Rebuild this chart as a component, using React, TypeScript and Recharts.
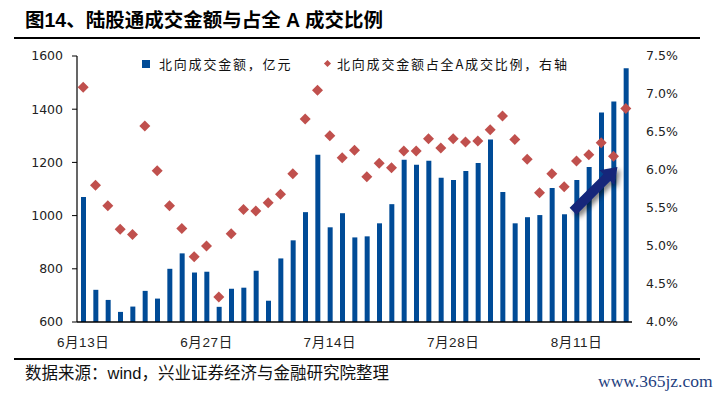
import React from 'react';
import { ComposedChart, Bar, Line, XAxis, YAxis, ReferenceLine } from 'recharts';

const categories = [
  '6月13日', '6月14日', '6月15日', '6月16日', '6月17日', '6月20日', '6月21日', '6月22日', '6月23日', '6月24日',
  '6月27日', '6月28日', '6月29日', '6月30日', '7月4日', '7月5日', '7月6日', '7月7日', '7月8日', '7月13日',
  '7月14日', '7月15日', '7月18日', '7月19日', '7月20日', '7月21日', '7月22日', '7月25日', '7月26日', '7月27日',
  '7月28日', '7月29日', '8月1日', '8月2日', '8月3日', '8月4日', '8月5日', '8月8日', '8月9日', '8月10日',
  '8月11日', '8月12日', '8月15日', '8月16日', '8月17日',
];

const amountValues = [
  1070, 721, 683, 638, 658, 717, 688, 800, 858, 786,
  789, 657, 725, 729, 793, 680, 839, 907, 1013, 1229,
  956, 1009, 918, 922, 971, 1043, 1210, 1191, 1206, 1142,
  1134, 1168, 1198, 1286, 1089, 971, 994, 1002, 1104, 1005,
  1134, 1183, 1388, 1429, 1554,
];

const ratioValues = [
  7.09, 5.80, 5.53, 5.22, 5.15, 6.58, 5.99, 5.53, 5.23, 4.86,
  5.00, 4.33, 5.16, 5.48, 5.46, 5.57, 5.68, 5.95, 6.67, 7.05,
  6.45, 6.16, 6.26, 5.91, 6.09, 6.03, 6.25, 6.25, 6.41, 6.29,
  6.41, 6.37, 6.38, 6.53, 6.71, 6.40, 6.14, 5.70, 5.95, 5.78,
  6.12, 6.20, 6.36, 6.18, 6.81,
];

const leftTicks = [600, 800, 1000, 1200, 1400, 1600];
const rightTicks = [4.0, 4.5, 5.0, 5.5, 6.0, 6.5, 7.0, 7.5];

const titleText = '图14、陆股通成交金额与占全 A 成交比例';
const barLegend = '北向成交金额，亿元';
const dotLegend = '北向成交金额占全A成交比例，右轴';
const sourceText = '数据来源：wind，兴业证券经济与金融研究院整理';
const watermark = 'www.365jz.com';

// arrow annotation anchors (category, left-axis value)
const arrowFrom = { x: '8月10日', y: 983 };
const arrowTo = { x: '8月16日', y: 1168 };

const data = categories.map((c, i) => ({ date: c, amount: amountValues[i], ratio: ratioValues[i] }));

const BAR_COLOR = '#004B97';
const DOT_COLOR = '#C0504D';

const Diamond = (props: any) => {
  const { cx, cy } = props;
  if (cx == null || cy == null) return null;
  const r = 5.5;
  return (
    <polygon
      key={`d-${props.index}`}
      points={`${cx},${cy - r} ${cx + r},${cy} ${cx},${cy + r} ${cx - r},${cy}`}
      fill={DOT_COLOR}
    />
  );
};

const ArrowShape = (props: any) => {
  const { x1, y1, x2, y2 } = props;
  if ([x1, y1, x2, y2].some((v) => v == null || isNaN(v))) return null;
  const dx = x2 - x1;
  const dy = y2 - y1;
  const sx = x1 + dx * 0.18;
  const sy = y1 + dy * 0.18;
  const ex = x1 + dx * 1.08;
  const ey = y1 + dy * 1.08;
  const len = Math.hypot(ex - sx, ey - sy);
  const ux = (ex - sx) / len;
  const uy = (ey - sy) / len;
  const nx = -uy;
  const ny = ux;
  const hw = 4.8;
  const headLen = 15;
  const headW = 10.5;
  const bx = ex - ux * headLen;
  const by = ey - uy * headLen;
  const pts = [
    [sx + nx * hw, sy + ny * hw],
    [bx + nx * hw, by + ny * hw],
    [bx + nx * headW, by + ny * headW],
    [ex, ey],
    [bx - nx * headW, by - ny * headW],
    [bx - nx * hw, by - ny * hw],
    [sx - nx * hw, sy - ny * hw],
  ]
    .map((p) => `${p[0]},${p[1]}`)
    .join(' ');
  return (
    <g>
      <defs>
        <filter id="arrowShadow" x="-50%" y="-50%" width="200%" height="200%">
          <feGaussianBlur in="SourceAlpha" stdDeviation="2.5" />
          <feOffset dx="3" dy="3" result="b" />
          <feComponentTransfer>
            <feFuncA type="linear" slope="0.5" />
          </feComponentTransfer>
          <feMerge>
            <feMergeNode />
            <feMergeNode in="SourceGraphic" />
          </feMerge>
        </filter>
      </defs>
      <polygon points={pts} fill="#13267A" filter="url(#arrowShadow)" />
    </g>
  );
};

const axisFont = { fontFamily: '"DejaVu Sans", Verdana, sans-serif', fontSize: 12.5, fill: '#222' };

export default function App() {
  return (
    <div style={{ position: 'absolute', left: 0, top: 0, width: 721, height: 395, background: '#fff', overflow: 'hidden' }}>
      <div
        style={{
          position: 'absolute', left: 25, top: 7, fontFamily: '"Liberation Sans", "Noto Sans CJK SC", sans-serif',
          fontWeight: 700, fontSize: 19.5, color: '#000', whiteSpace: 'nowrap', lineHeight: '26px',
        }}
      >
        {titleText}
      </div>
      <div style={{ position: 'absolute', left: 14, top: 37, width: 686, height: 1.5, background: '#000' }} />

      <ComposedChart
        width={721}
        height={395}
        data={data}
        margin={{ top: 56, right: 0, bottom: 43, left: 0 }}
        style={{ position: 'absolute', left: 0, top: 0 }}
      >
        <XAxis
          dataKey="date"
          interval={9}
          tickLine={false}
          tickSize={0}
          tickMargin={15}
          height={30}
          axisLine={{ stroke: '#000', strokeWidth: 1.3 }}
          tick={{ fontFamily: '"Liberation Sans", "Noto Sans CJK SC", sans-serif', fontSize: 13.5, fill: '#222', letterSpacing: 0.6 }}
        />
        <YAxis
          yAxisId="left"
          orientation="left"
          width={77}
          domain={[600, 1600]}
          ticks={leftTicks}
          allowDataOverflow
          tickSize={5}
          tickMargin={9}
          tickLine={{ stroke: '#000' }}
          axisLine={{ stroke: '#000', strokeWidth: 1.2 }}
          tick={axisFont}
        />
        <YAxis
          yAxisId="right"
          orientation="right"
          width={89}
          domain={[4.0, 7.5]}
          ticks={rightTicks}
          allowDataOverflow
          tickLine={false}
          axisLine={false}
          tickSize={6}
          tickMargin={8}
          tickFormatter={(v: number) => `${v.toFixed(1)}%`}
          tick={axisFont}
        />
        <Bar yAxisId="left" dataKey="amount" fill={BAR_COLOR} barSize={5} isAnimationActive={false} />
        <Line
          yAxisId="right"
          dataKey="ratio"
          stroke="none"
          strokeWidth={0}
          dot={Diamond}
          activeDot={false}
          isAnimationActive={false}
        />
        <ReferenceLine
          yAxisId="left"
          segment={[arrowFrom, arrowTo]}
          shape={ArrowShape}
          ifOverflow="visible"
        />
      </ComposedChart>

      {/* legend */}
      <div style={{ position: 'absolute', left: 142, top: 60, width: 8, height: 8, background: BAR_COLOR }} />
      <div
        style={{
          position: 'absolute', left: 159, top: 55, fontFamily: '"Noto Sans CJK SC", sans-serif', fontSize: 13,
          letterSpacing: 1.8, color: '#111', whiteSpace: 'nowrap', lineHeight: '18px',
        }}
      >
        {barLegend}
      </div>
      <div
        style={{
          position: 'absolute', left: 325, top: 61, width: 5, height: 5, background: DOT_COLOR, transform: 'rotate(45deg)',
        }}
      />
      <div
        style={{
          position: 'absolute', left: 337, top: 55, fontFamily: '"Noto Sans CJK SC", sans-serif', fontSize: 13,
          letterSpacing: 1.8, color: '#111', whiteSpace: 'nowrap', lineHeight: '18px',
        }}
      >
        {dotLegend}
      </div>

      <div style={{ position: 'absolute', left: 14, top: 358, width: 686, height: 1.5, background: '#000' }} />
      <div
        style={{
          position: 'absolute', left: 25, top: 362, fontFamily: '"Liberation Sans", "Noto Sans CJK SC", sans-serif',
          fontSize: 16.5, color: '#111', whiteSpace: 'nowrap', lineHeight: '22px',
        }}
      >
        {sourceText}
      </div>
      <div
        style={{
          position: 'absolute', left: 598, top: 370, fontFamily: '"Liberation Serif", serif', fontSize: 17.5,
          color: '#1F3F80', whiteSpace: 'nowrap', lineHeight: '22px',
        }}
      >
        {watermark}
      </div>
    </div>
  );
}
